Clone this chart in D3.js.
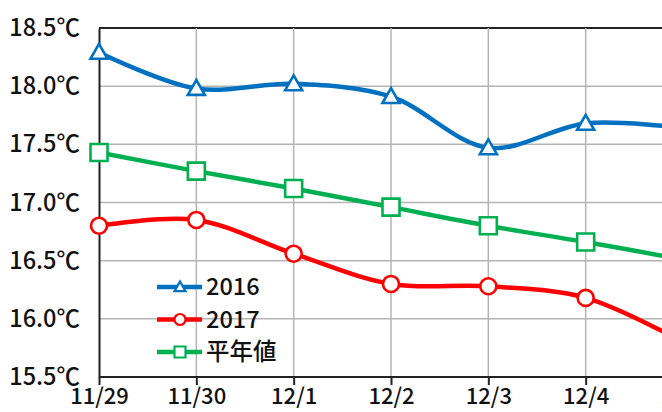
<!DOCTYPE html>
<html>
<head>
<meta charset="utf-8">
<script src="https://cdn.jsdelivr.net/npm/d3@7"></script>
<style>
  html, body { margin: 0; padding: 0; background: #fff; }
  svg { display: block; }
</style>
</head>
<body>
<svg id="chart" width="662" height="412"></svg>
<script>
const dates = ["11/29", "11/30", "12/1", "12/2", "12/3", "12/4", "12/5"];
const temps2016 = [18.29, 17.98, 18.02, 17.91, 17.47, 17.68, 17.64];
const temps2017 = [16.80, 16.85, 16.56, 16.30, 16.28, 16.18, 15.8];
const normals = [17.43, 17.27, 17.12, 16.96, 16.80, 16.66, 16.51];
const yTicks = [15.5, 16.0, 16.5, 17.0, 17.5, 18.0, 18.5];

const series = [
  { name: "2016", values: temps2016, color: "#0070c0", marker: "triangle" },
  { name: "2017", values: temps2017, color: "#ff0000", marker: "circle" },
  { name: "平年値", values: normals, color: "#00b050", marker: "square" },
];

const svg = d3.select("#chart");
const font = "'Noto Sans CJK JP', 'Noto Sans', sans-serif";
const fontSize = "23.5px";

const margin = { top: 28, left: 99, bottom: 35 };
const height = 412;
const plotBottom = height - margin.bottom;

const x = d3.scalePoint().domain(dates).range([margin.left, 683]);
const y = d3.scaleLinear().domain([15.5, 18.5]).range([plotBottom, margin.top]);

// grid
const grid = svg.append("g").attr("class", "grid");
grid.selectAll("line.h")
  .data(yTicks.slice(1))
  .join("line")
  .attr("x1", margin.left).attr("x2", 700)
  .attr("y1", (d) => y(d)).attr("y2", (d) => y(d))
  .attr("stroke", d => d === 18.5 ? "#222" : "#b4b4b4")
  .attr("stroke-width", d => d === 18.5 ? 2 : 1.5);
grid.selectAll("line.v")
  .data(dates.slice(1))
  .join("line")
  .attr("x1", (d) => x(d)).attr("x2", (d) => x(d))
  .attr("y1", margin.top).attr("y2", plotBottom)
  .attr("stroke", "#b4b4b4")
  .attr("stroke-width", 1.5);

// axes
const gx = svg.append("g").attr("transform", `translate(0,${plotBottom})`)
  .call(d3.axisBottom(x).tickSize(8).tickPadding(3));
gx.select(".domain").attr("d", `M${margin.left},0H700`).attr("stroke", "#222").attr("stroke-width", 2);
gx.selectAll(".tick line").attr("stroke", "#222").attr("stroke-width", 2);
gx.selectAll(".tick text")
  .attr("fill", "#111")
  .style("font-family", font)
  .style("font-size", "22px")
  .style("font-weight", "500");

const gy = svg.append("g").attr("transform", `translate(${margin.left},0)`)
  .call(d3.axisLeft(y).tickValues(yTicks).tickSize(0).tickPadding(19)
    .tickFormat((d) => d3.format(".1f")(d) + "℃"));
gy.select(".domain").attr("stroke", "#222").attr("stroke-width", 2);
gy.selectAll(".tick text")
  .attr("fill", "#111")
  .style("font-family", font)
  .style("font-size", fontSize)
  .style("font-weight", "500");

// lines
const line = d3.line()
  .x((d, i) => x(dates[i]))
  .y((d) => y(d))
  .curve(d3.curveCatmullRom.alpha(0.5));

function markerPath(type, s) {
  if (type === "triangle") return `M0,${-s}L${s},${s * 0.75}L${-s},${s * 0.75}Z`;
  if (type === "square") return `M${-s},${-s}H${s}V${s}H${-s}Z`;
  return d3.arc()({ innerRadius: 0, outerRadius: s, startAngle: 0, endAngle: 2 * Math.PI });
}

const markerSize = { triangle: 8.5, circle: 8, square: 8.5 };

series.forEach((s) => {
  const g = svg.append("g");
  g.append("path")
    .attr("d", line(s.values))
    .attr("fill", "none")
    .attr("stroke", s.color)
    .attr("stroke-width", 4.5);
  g.selectAll("path.marker")
    .data(s.values)
    .join("path")
    .attr("class", "marker")
    .attr("transform", (d, i) => `translate(${x(dates[i])},${y(d)})`)
    .attr("d", markerPath(s.marker, markerSize[s.marker]))
    .attr("fill", "#fff")
    .attr("stroke", s.color)
    .attr("stroke-width", 2.6);
});

// legend
const legend = svg.append("g").attr("transform", "translate(157,287)");
const item = legend.selectAll("g")
  .data(series)
  .join("g")
  .attr("transform", (d, i) => `translate(0,${i * 32.5})`);
item.append("line")
  .attr("x1", 0).attr("x2", 45)
  .attr("stroke", (d) => d.color)
  .attr("stroke-width", 4.5);
item.append("path")
  .attr("transform", "translate(23,0)")
  .attr("d", (d) => markerPath(d.marker, 5.5))
  .attr("fill", "#fff")
  .attr("stroke", (d) => d.color)
  .attr("stroke-width", 2.2);
item.append("text")
  .attr("x", 49)
  .attr("dy", "0.35em")
  .attr("fill", "#111")
  .style("font-family", font)
  .style("font-size", fontSize)
  .style("font-weight", "500")
  .text((d) => d.name);
</script>
</body>
</html>
